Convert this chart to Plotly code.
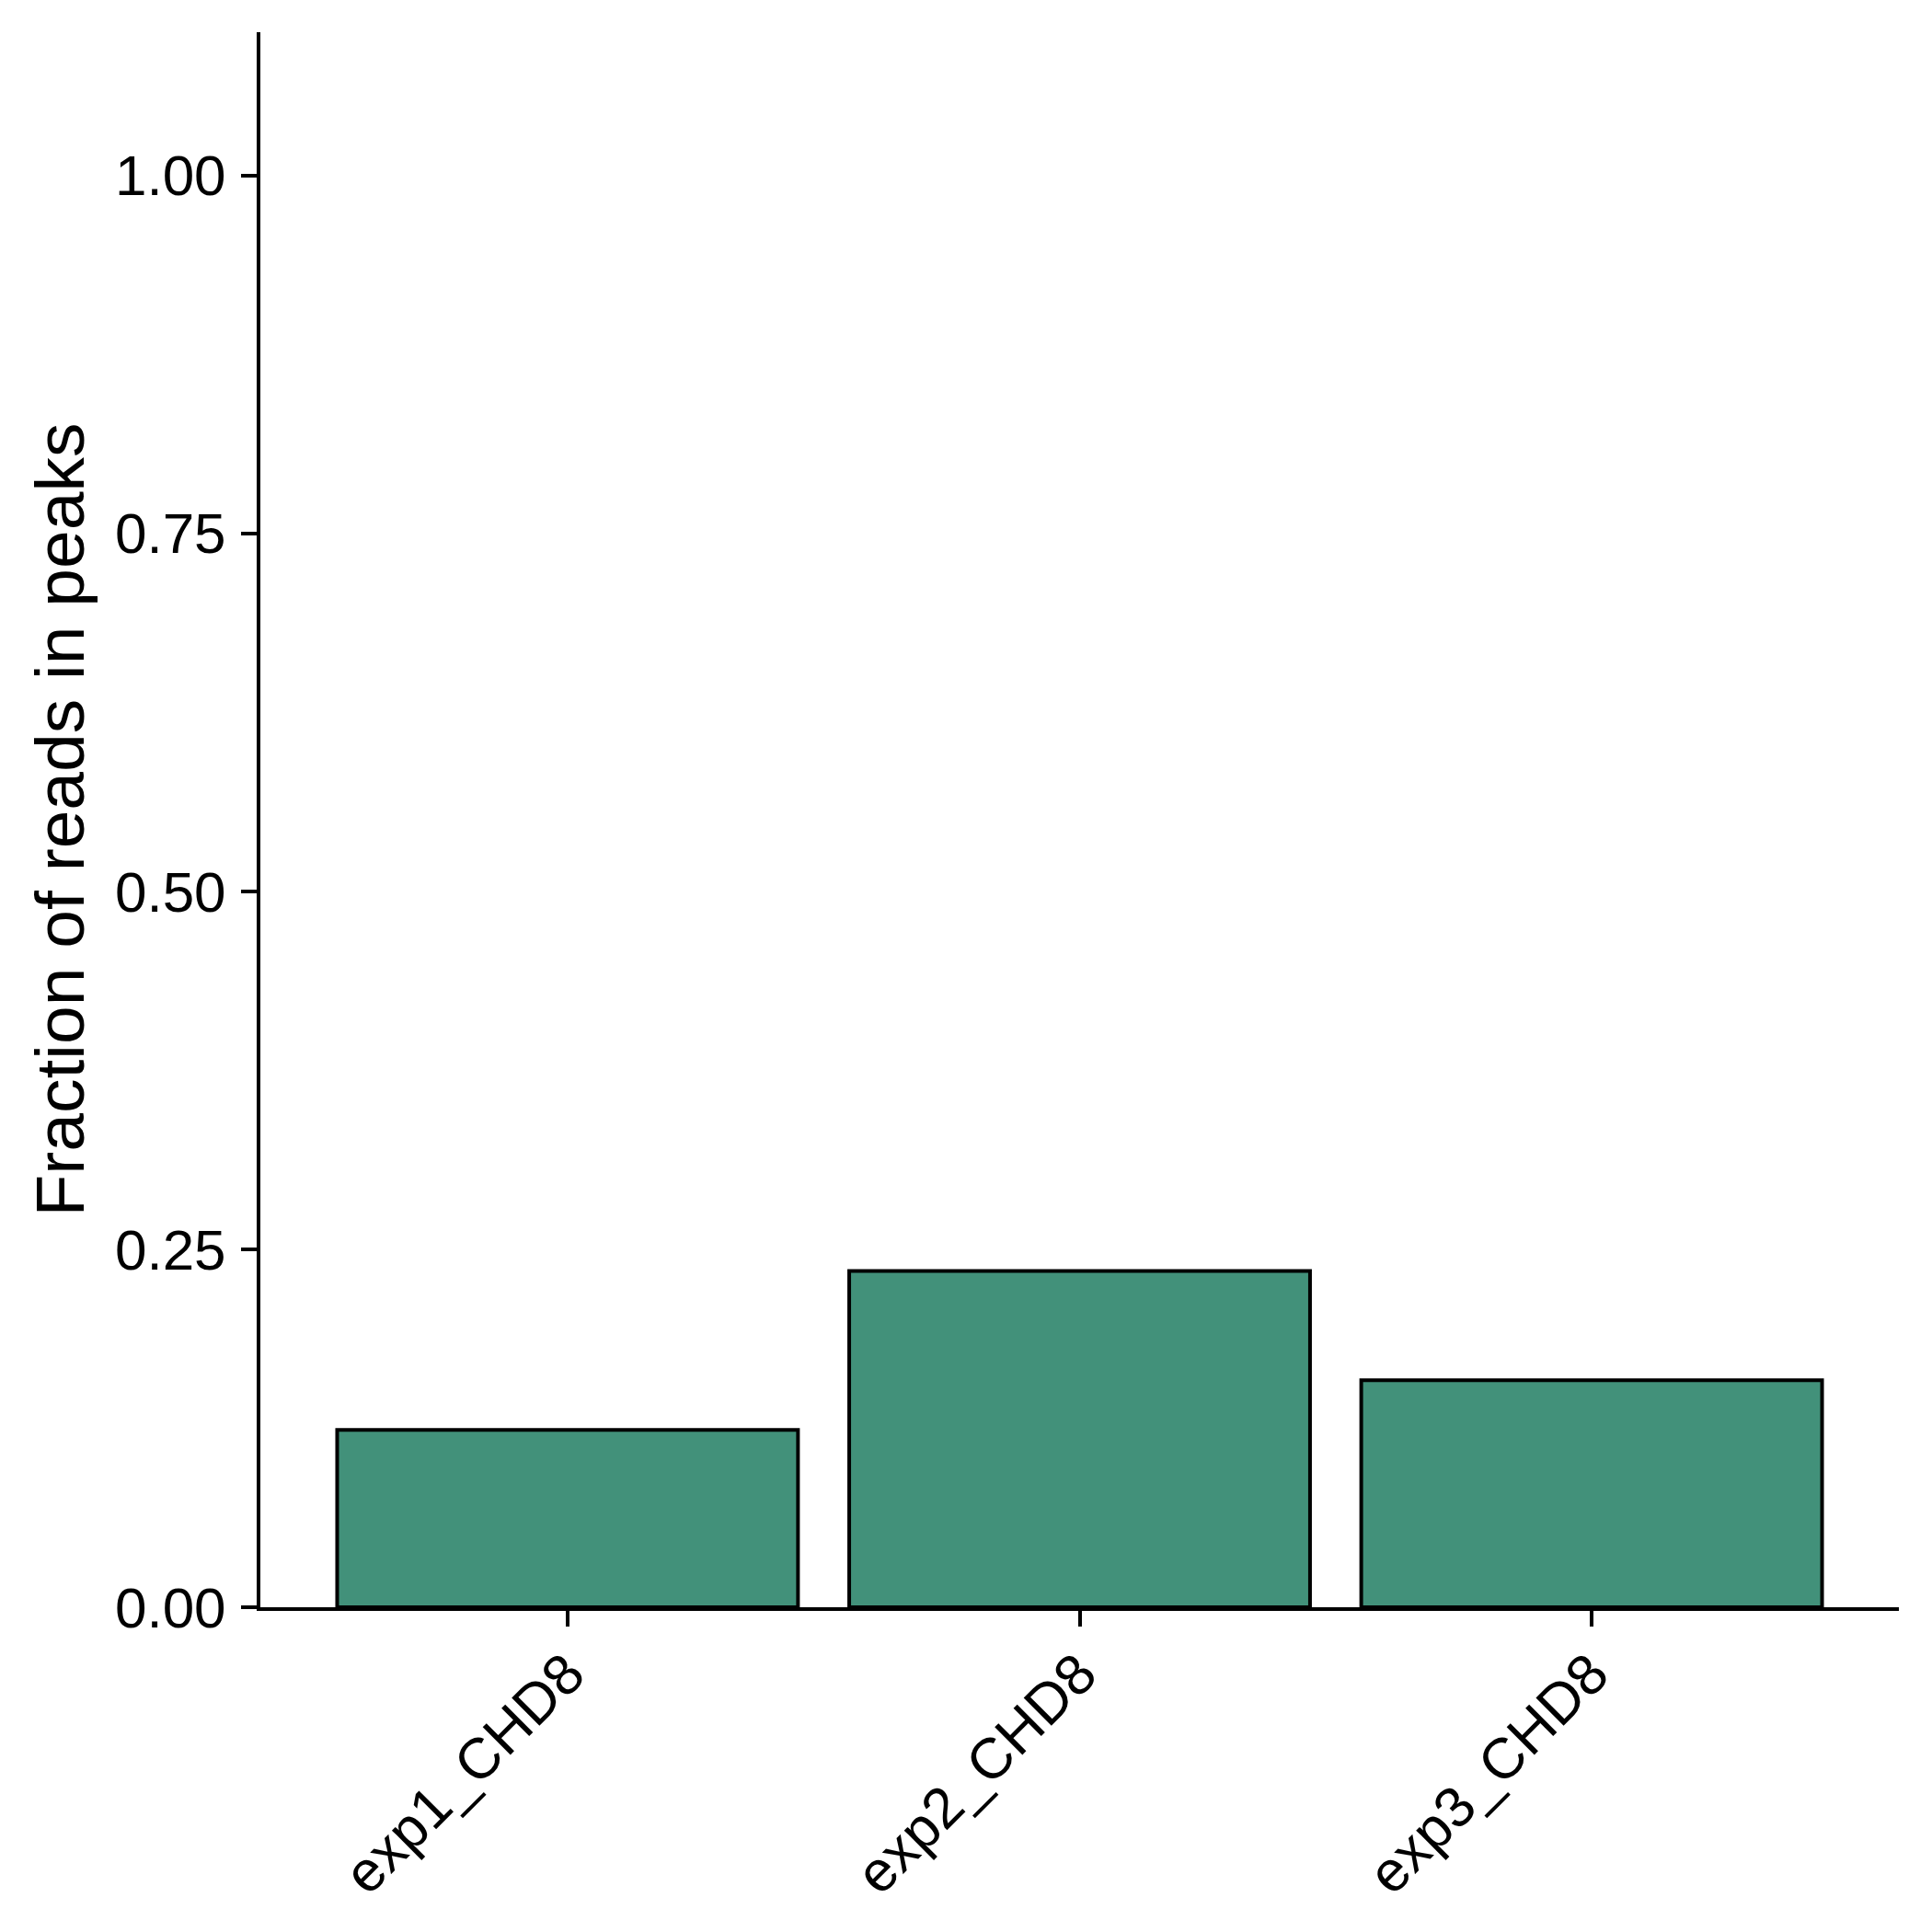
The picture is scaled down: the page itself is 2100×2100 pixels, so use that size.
import plotly.graph_objects as go

categories = ["exp1_CHD8", "exp2_CHD8", "exp3_CHD8"]
frip = [0.1238, 0.2348, 0.1585]
y_ticks = [0.0, 0.25, 0.5, 0.75, 1.0]
y_tick_labels = ["0.00", "0.25", "0.50", "0.75", "1.00"]

fig = go.Figure()
fig.add_trace(go.Bar(
    x=categories,
    y=frip,
    width=0.9,
    marker=dict(color="#42917A", line=dict(color="black", width=4)),
))

font = "Liberation Sans, Arial, Helvetica, sans-serif"
fig.update_layout(
    width=2100,
    height=2100,
    margin=dict(l=275, r=44, t=27, b=361),
    plot_bgcolor="white",
    paper_bgcolor="white",
    showlegend=False,
    font=dict(family=font, color="black", size=62),
)
fig.update_xaxes(
    range=[-0.6, 2.6],
    showline=True, linecolor="black", linewidth=4,
    ticks="outside", ticklen=17, tickwidth=4, tickcolor="black",
    tickangle=-45,
    ticklabelstandoff=-10,
    tickfont=dict(size=62, family=font, color="black"),
    showgrid=False, zeroline=False,
)
fig.update_yaxes(
    range=[0, 1.1],
    tickvals=y_ticks, ticktext=y_tick_labels,
    showline=True, linecolor="black", linewidth=4,
    ticks="outside", ticklen=17, tickwidth=4, tickcolor="black",
    ticklabelstandoff=4,
    tickfont=dict(size=62, family=font, color="black"),
    showgrid=False, zeroline=False,
    title=dict(text="Fraction of reads in peaks", font=dict(size=75, family=font, color="black"), standoff=10),
)

fig.write_html("out.html")
